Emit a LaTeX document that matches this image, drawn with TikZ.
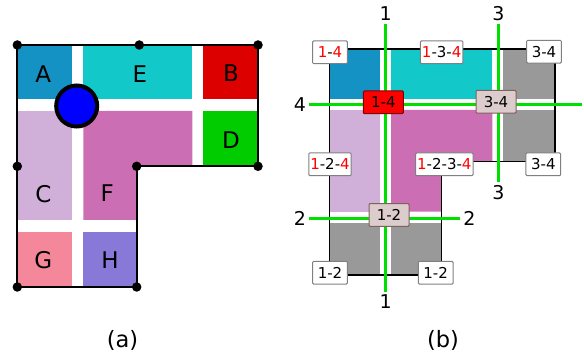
\documentclass[tikz,border=0pt]{standalone}
\usepackage{fontspec}
\setmainfont{DejaVu Sans}
\definecolor{colA}{HTML}{1592C4}
\definecolor{colE}{HTML}{12C8C8}
\definecolor{colB}{HTML}{DD0000}
\definecolor{colD}{HTML}{00CC00}
\definecolor{colC}{HTML}{D0B0D8}
\definecolor{colF}{HTML}{CC6EB4}
\definecolor{colG}{HTML}{F4889A}
\definecolor{colH}{HTML}{8878D8}
\definecolor{colGray}{HTML}{999999}
\definecolor{colGreen}{HTML}{00E000}
\definecolor{colTag}{HTML}{DCCCCC}
\newcommand{\redd}[1]{\textcolor{red}{#1}}
\tikzset{
  corner/.style={circle,fill=black,inner sep=0pt,minimum size=9.5pt},
  region/.style={font=\fontsize{23}{23}\selectfont},
  cut/.style={font=\fontsize{19}{19}\selectfont,inner sep=3pt},
  cutline/.style={draw=colGreen,line width=3pt},
  tag/.style={draw=gray,fill=white,rounded corners=1pt,line width=1pt,
    inner xsep=1.5pt,inner ysep=0pt,minimum height=22.7pt,minimum width=34.7pt,
    font=\fontsize{15}{15}\selectfont},
  midtag/.style={tag,minimum width=40pt,fill=colTag,draw={rgb,255:red,128;green,96;blue,96}},
  caption/.style={font=\fontsize{22.5}{22.5}\selectfont}
}
\begin{document}
\begin{tikzpicture}[x=1pt,y=-1pt]
    \useasboundingbox (0,0) rectangle (584,358);
    % (a) the regions
    \fill[colA] (17.3,45) rectangle (71.7,99);
    \fill[colE] (83.3,45) rectangle (192.3,99);
    \fill[colB] (203.3,45) rectangle (258,99);
    \fill[colD] (203.3,111) rectangle (258,166);
    \fill[colC] (17.3,111) rectangle (71.7,220);
    \fill[colF] (83.3,111) -- (192.3,111) -- (192.3,166) -- (136.7,166) -- (136.7,220) -- (83.3,220) -- cycle;
    \fill[colG] (17.3,231.7) rectangle (71.7,287);
    \fill[colH] (83.3,231.7) rectangle (136.7,287);
    \node[region] (A) at (43.3,74) {A};
    \node[region] (E) at (140,74) {E};
    \node[region] (B) at (231,73) {B};
    \node[region] (D) at (231,140) {D};
    \node[region] (C) at (43.3,194) {C};
    \node[region] (F) at (107.3,193) {F};
    \node[region] (G) at (43.3,260) {G};
    \node[region] (H) at (110,260) {H};
    \coordinate (a1) at (17.3,45);
    \coordinate (a2) at (139.3,45);
    \coordinate (a3) at (258,45);
    \coordinate (a4) at (17.3,166.3);
    \coordinate (a5) at (136.7,166.3);
    \coordinate (a6) at (258,166.3);
    \coordinate (a7) at (17.3,287);
    \coordinate (a8) at (136.7,287);
    \draw[line width=2pt] (a1) -- (a3) -- (a6) -- (a5) -- (a8) -- (a7) -- cycle;
    \foreach \c in {a1,a2,a3,a4,a5,a6,a7,a8}
        \node[corner] at (\c) {};
    \node[draw,circle,line width=4pt,fill=blue,minimum size=41pt] (ball) at (76.7,106) {};
    % (b) the regions
    \fill[colA] (329.3,49) rectangle (380,99);
    \fill[colE] (391,49) rectangle (492.3,99);
    \fill[colGray] (503.3,49) rectangle (555,99);
    \fill[colC] (329.3,110) rectangle (380,211.7);
    \fill[colF] (391,110) -- (492.3,110) -- (492.3,161.7) -- (441.7,161.7) -- (441.7,211.7) -- (391,211.7) -- cycle;
    \fill[colGray] (503.3,110) rectangle (555,161.7);
    \fill[colGray] (329.3,223.3) rectangle (380,275);
    \fill[colGray] (391,223.3) rectangle (441.7,275);
    \coordinate (b1) at (329.3,49);
    \coordinate (b2) at (555,49);
    \coordinate (b3) at (555,161.7);
    \coordinate (b4) at (441.7,161.7);
    \coordinate (b5) at (441.7,275);
    \coordinate (b6) at (329.3,275);
    \draw[line width=1.5pt] (b1) -- (b2) -- (b3) -- (b4) -- (b5) -- (b6) -- cycle;
    % cut lines
    \node[cut] (top1) at (385.7,14) {1};
    \node[cut] (bot1) at (385.7,302) {1};
    \node[cut] (top3) at (498.3,14) {3};
    \node[cut] (bot3) at (498.3,192.7) {3};
    \node[cut] (left4) at (300,105) {4};
    \node[cut] (right4) at (591,105) {4};
    \node[cut] (left2) at (300,218.3) {2};
    \node[cut] (right2) at (469.3,218.3) {2};
    \draw[cutline] (top1) -- (bot1);
    \draw[cutline] (top3) -- (bot3);
    \draw[cutline] (left4) -- (right4);
    \draw[cutline] (left2) -- (right2);
    % tags
    \node[tag] (t14) at (330,52.3) {\redd{1}-\redd{4}};
    \node[tag] (t134) at (441.7,52.3) {\redd{1}-3-\redd{4}};
    \node[tag] (t34a) at (544,51.7) {3-4};
    \node[midtag,fill=red,draw={rgb,255:red,128;green,0;blue,0}] (m14) at (383.3,102.3) {1-4};
    \node[midtag] (m34) at (496,101.7) {3-4};
    \node[tag] (t124) at (330,164.3) {\redd{1}-2-\redd{4}};
    \node[tag] (t1234) at (444.3,164.3) {\redd{1}-2-3-\redd{4}};
    \node[tag] (t34b) at (543.3,164.3) {3-4};
    \node[midtag] (m12) at (389,215) {1-2};
    \node[tag] (t12a) at (330,272.7) {1-2};
    \node[tag] (t12b) at (435.7,272.7) {1-2};
    % captions
    \node[caption] (capa) at (122.5,340) {(a)};
    \node[caption] (capb) at (443,340) {(b)};
\end{tikzpicture}
\end{document}
